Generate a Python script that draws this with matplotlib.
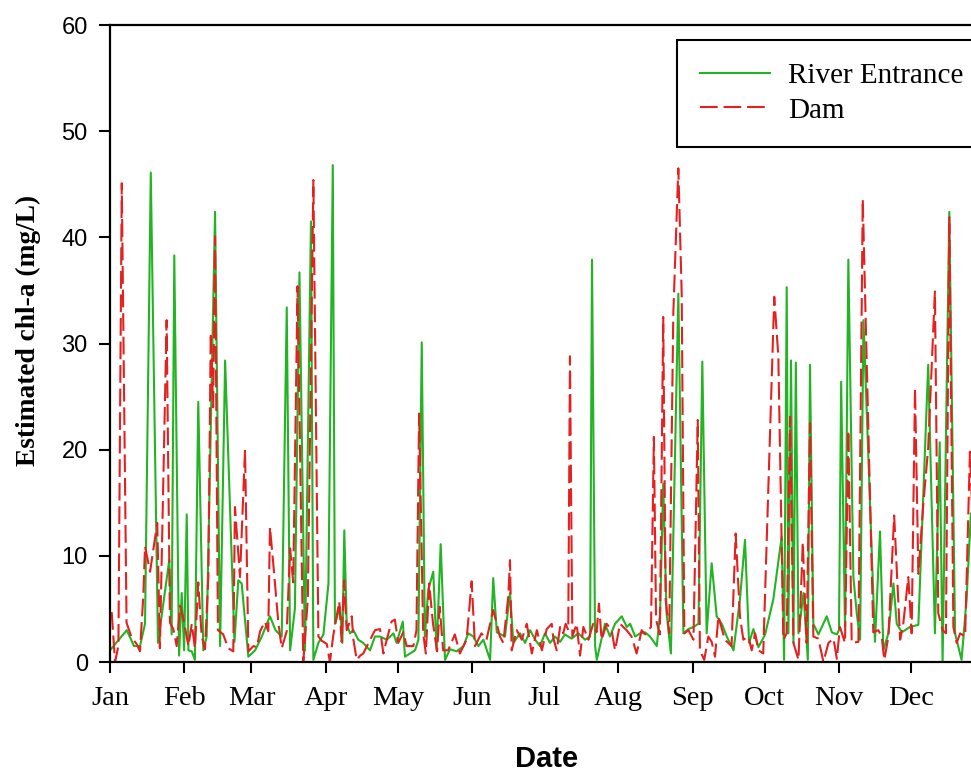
import matplotlib
matplotlib.use('Agg')
import matplotlib.pyplot as plt
from matplotlib.font_manager import FontProperties

# day of year (0 = 1 Jan) and estimated chl-a (mg/L) at the river entrance
river_day = [0, 7, 10, 12.5, 14.6, 17, 20, 24.7, 25.7, 26.8, 28.8, 29.9, 30.9, 32, 32.7,
             34.1, 35.4, 36.8, 38.9, 40.3, 43.8, 45.9, 48, 51.9, 53.5, 54.9, 57.7, 60.5,
             63.3, 66.7, 69, 71.6, 73.7, 75.1, 77.1, 79, 81.3, 83.8, 84.8, 86.9, 89, 91.1,
             92.9, 93.8, 95.9, 96.9, 97.7, 98.7, 100.1, 101.5, 103.5, 105.6, 108.4, 110.5,
             112.6, 115.4, 118.2, 119.5, 122.1, 123, 125.1, 127.2, 128.6, 130, 131.3, 132.7,
             134.8, 136.2, 137.9, 139.7, 141.8, 144.6, 147.4, 149.4, 151.5, 153.6, 155.7,
             158.5, 159.8, 161.3, 164.7, 166.8, 168.2, 171, 173.1, 175.2, 177.3, 179.3,
             181.4, 183.5, 185.6, 187.7, 189.7, 192.5, 195.3, 198.1, 200.2, 201, 202.3, 203,
             204.3, 206.4, 208.5, 210.6, 213.4, 215.5, 216.9, 219, 221, 223.1, 225.2, 228,
             229.4, 230.7, 232.1, 233.9, 237, 239.1, 241.2, 243.3, 245.4, 247, 248.8, 250.9,
             253, 255.1, 257.2, 260, 262.7, 264.8, 266.5, 268.3, 270.4, 273.2, 276.6, 280.1,
             281.1, 282.2, 282.9, 284, 285, 286, 287.1, 289.2, 291, 291.9, 293.3, 295.4,
             298.9, 301, 303.1, 304, 304.9, 306.5, 307.9, 310, 311.4, 312.8, 314.2, 319,
             321.1, 322.5, 324.6, 326.7, 328.1, 330.2, 333.6, 337.1, 341.2, 344, 346, 347.2,
             350, 352.4, 355.1, 357.2, 359, 361, 364]
river_chl = [1.1, 3.0, 1.5, 1.5, 3.6, 46.1, 1.8, 9.6, 2.6, 38.3, 0.6, 6.5, 1.1, 13.9, 1.1,
             1.0, 0.2, 24.5, 1.1, 2.4, 42.4, 1.5, 28.4, 1.9, 7.7, 7.4, 0.5, 1.1,
             2.4, 4.3, 3.0, 2.4, 33.4, 1.1, 5.0, 36.7, 1.1, 41.5, 0.2, 1.8, 2.6, 7.4,
             46.8, 3.6, 5.2, 1.8, 12.4, 3.6, 2.7, 3.0, 2.1, 1.8, 1.1, 2.4,
             2.4, 2.1, 2.7, 1.8, 3.8, 0.5, 0.8, 1.1, 2.1, 30.1, 2.4, 6.8,
             8.5, 1.1, 11.1, 0.2, 1.2, 1.0, 1.5, 2.7, 2.4, 1.5, 2.1,
             0.2, 7.9, 2.8, 2.4, 6.5, 1.8, 2.7, 1.8, 3.0, 2.1, 1.5,
             2.7, 1.8, 2.4, 1.9, 2.6, 2.2, 2.7, 2.1, 2.4, 37.9, 1.5, 0.2,
             1.5, 3.6, 2.4, 3.6, 4.3, 3.3, 3.6, 2.4, 2.7, 2.8, 2.4, 1.5,
             4.6, 16.8, 4.6, 0.8, 34.7, 2.7, 3.1, 3.3, 3.6, 28.3, 2.7, 9.3,
             4.3, 3.6, 2.4, 1.1, 5.9, 11.5, 1.8, 3.1, 1.4, 2.6, 5.9, 11.8,
             0.2, 35.3, 2.7, 28.4, 1.8, 28.2, 2.7, 6.5, 0.2, 28.0, 3.6, 2.6,
             4.3, 2.8, 2.6, 3.0, 26.4, 3.3, 37.9, 8.0, 4.6, 2.1, 32.2, 1.9,
             12.3, 1.1, 2.7, 7.4, 3.6, 2.8, 3.3, 3.5, 28.0, 2.7, 20.7, 0.0,
             42.4, 2.7, 0.2, 5.9, 14.0, 4.0, 3.0]

# day of year and estimated chl-a (mg/L) at the dam
dam_day = [0.7, 2.1, 3.5, 4.9, 6.9, 9, 11.1, 12.5, 13.9, 14.6, 16.7, 19.7, 20.8, 23.6, 25,
           26.4, 27.8, 29.2, 30.6, 32.7, 34.1, 35.4, 36.8, 38.2, 39.6, 41, 42, 43, 43.8, 45,
           47.2, 49.3, 51.4, 52.1, 54.2, 56.3, 57.7, 59.8, 61.2, 62.6, 64.6, 66, 66.7, 68.1,
           70.2, 71.6, 73.7, 75.1, 76.4, 78.2, 80.6, 82.5, 84.8, 86.9, 88.3, 90.4, 91.7,
           93.1, 94.5, 95.6, 96.6, 97.6, 98.7, 100.8, 101.5, 102.9, 104.3, 105.6, 110.5,
           112.6, 114, 115.4, 117.4, 118.8, 120.2, 122.3, 123.7, 126.5, 127.8, 128.9, 130.6,
           131.7, 133.1, 134.7, 136.4, 137.5, 138.9, 141, 143.8, 145.9, 148.7, 150.8, 152.2,
           154.9, 157, 159.8, 162.6, 164, 166.1, 166.8, 167.5, 169.6, 171.7, 173.8, 175.9,
           178, 180.1, 182.1, 184.2, 184.9, 186.3, 187.7, 189, 190, 191.1, 191.8, 192.8,
           194.6, 196, 197.4, 199.5, 201.5, 202.9, 203.9, 205, 207.1, 209.2, 210.6, 212.7,
           215.4, 217.5, 219.6, 221.7, 223.1, 225.6, 226.8, 227.7, 229.3, 230.7, 231.7,
           233.2, 234.9, 237, 238.4, 239.5, 241.2, 243.3, 245.1, 246, 247.8, 249.5, 250.9,
           252.3, 253.7, 256.4, 259.2, 260.9, 262.7, 264.1, 266.2, 267.6, 269, 270.4, 272.4,
           277, 278.7, 280.8, 282.2, 283.6, 285, 287.1, 288.9, 290.5, 291.9, 293.3, 295.4,
           297.5, 299.6, 301.7, 303.1, 304.4, 306.5, 307.9, 309.3, 312.1, 313.9, 315.3,
           318.3, 320.4, 321.8, 322.9, 324.6, 327, 329.5, 330.8, 332.9, 334.3, 335.7, 337.1,
           339.2, 341.2, 344, 345.4, 347.2, 348.6, 350, 351.7, 353.1, 354.5, 356.6, 358.6,
           361, 364]
dam_chl = [4.7, 0.0, 1.5, 45.1, 3.7, 2.3, 1.7, 1.0, 6.3, 10.9, 8.5, 13.1, 1.3, 32.2, 3.7,
           3.1, 1.5, 5.3, 4.1, 1.5, 3.6, 1.3, 7.5, 2.5, 1.2, 8.0, 31.0, 24.0, 40.1, 3.0,
           2.6, 1.3, 1.0, 14.6, 8.0, 20.0, 1.0, 1.5, 1.4, 2.9, 3.8, 2.9, 12.7, 9.2,
           3.7, 1.3, 2.9, 10.7, 7.5, 35.4, 0.0, 6.0, 45.4, 2.4, 2.0, 1.7, 0.0,
           2.5, 4.3, 5.7, 1.9, 7.7, 3.0, 4.3, 2.1, 0.2, 0.6, 0.8, 3.0,
           3.1, 0.8, 2.1, 3.8, 4.0, 1.8, 2.8, 1.5, 1.5, 3.0, 23.4, 2.7,
           0.8, 7.4, 3.6, 1.0, 5.2, 1.1, 1.1, 2.6, 0.8, 2.1, 7.6, 1.5,
           2.7, 2.1, 4.9, 2.4, 1.8, 6.2, 9.6, 1.1, 3.0, 2.1, 3.6, 0.8,
           3.0, 1.1, 3.1, 3.6, 2.2, 1.1, 3.3, 2.7, 3.6, 3.0, 28.8, 2.4,
           3.6, 0.6, 3.3, 2.1, 3.6, 2.8, 5.5, 2.1, 3.6, 3.0, 1.1, 3.6,
           3.0, 2.4, 0.8, 3.0, 2.6, 3.3, 21.2, 4.0, 2.6, 32.5, 5.9,
           2.7, 32.8, 46.5, 34.7, 2.7, 3.0, 2.1, 22.8, 1.1, 0.2, 2.4, 1.9,
           0.5, 4.3, 2.1, 1.5, 12.1, 4.3, 2.1, 2.4, 1.1, 2.7, 1.1, 0.8,
           34.4, 28.8, 2.1, 2.7, 23.1, 1.8, 0.2, 11.3, 1.8, 22.5, 2.4, 2.2,
           0.0, 1.8, 2.2, 0.3, 3.3, 1.8, 21.8, 1.8, 1.9, 43.6, 30.5,
           2.8, 3.0, 2.4, 0.2, 2.4, 13.8, 2.1, 3.6, 8.0, 2.7, 25.8, 8.3,
           15.0, 20.2, 34.9, 4.6, 3.0, 2.7, 41.9, 3.3, 1.8, 2.7, 2.4, 19.8,
           6.0, 2.5]

month_start = [0, 31, 59, 90, 120, 151, 181, 212, 243, 273, 304, 334]
month_names = ['Jan', 'Feb', 'Mar', 'Apr', 'May', 'Jun',
               'Jul', 'Aug', 'Sep', 'Oct', 'Nov', 'Dec']
y_ticks = [0, 10, 20, 30, 40, 50, 60]

serif = 'Liberation Serif'
sans = 'Liberation Sans'

fig = plt.figure(figsize=(9.71, 7.74), dpi=100)
# plot area runs on past the right edge of the figure
ax = fig.add_axes([0.1133, 0.1447, 0.9014, 0.8230])

ax.plot(river_day, river_chl, color='#22b422', lw=1.5, label='River Entrance')
ax.plot(dam_day, dam_chl, color='#e42020', lw=1.5, linestyle=(0, (8.5, 2.8)),
        label='Dam')

ax.set_xlim(0, 365)
ax.set_ylim(0, 60)
ax.set_xticks(month_start)
ax.set_xticklabels(month_names, fontfamily=serif, fontsize=20.5)
ax.set_yticks(y_ticks)
ax.set_yticklabels([str(v) for v in y_ticks], fontfamily=sans, fontsize=17)
ax.tick_params(axis='both', direction='out', length=8, width=1.5, color='black')
ax.tick_params(axis='x', pad=9)
ax.tick_params(axis='y', pad=8)
for sp in ax.spines.values():
    sp.set_linewidth(1.6)

fig.text(28 / 971, 1 - 330 / 774, 'Estimated chl-a (mg/L)', rotation=90,
         ha='center', va='center', fontfamily=serif, fontweight='bold', fontsize=19.7)
fig.text(547 / 971, 1 - 759 / 774, 'Date', ha='center', va='center',
         fontfamily=sans, fontweight='bold', fontsize=21)

leg = ax.legend(loc='upper left', bbox_to_anchor=(677 / 971, 1 - 39.5 / 774),
                bbox_transform=fig.transFigure, borderaxespad=0,
                prop=FontProperties(family=serif, size=21), fancybox=False,
                edgecolor='black', framealpha=1, handlelength=2.4,
                handletextpad=0.6, labelspacing=0.27, borderpad=0.8)
leg.get_frame().set_linewidth(1.5)

fig.savefig('out.png', dpi=100)
